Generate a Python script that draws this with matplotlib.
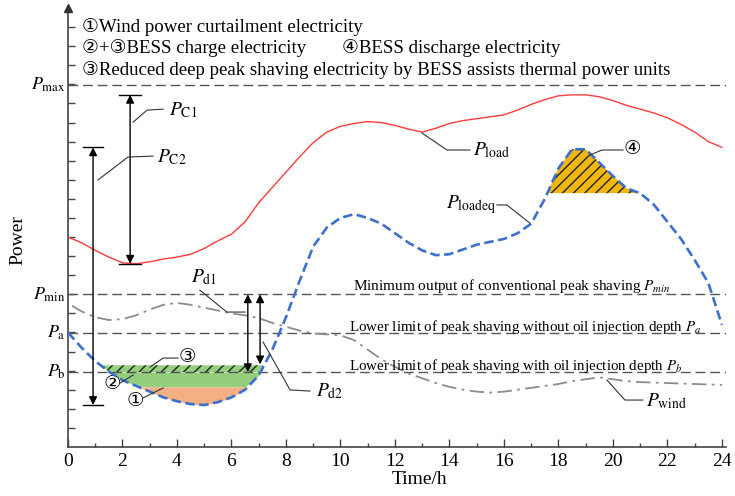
import numpy as np
import matplotlib
matplotlib.use("Agg")
import matplotlib.pyplot as plt

plt.rcParams['font.family'] = ['Liberation Serif', 'DejaVu Sans']
plt.rcParams['mathtext.fontset'] = 'stix'
plt.rcParams['hatch.linewidth'] = 1.0

# ---------------- data ----------------
hours = [0.0, 0.5, 1.0, 1.5, 2.0, 2.5, 3.0, 3.5, 4.0, 4.5, 5.0, 5.5, 6.0, 6.5, 7.0, 7.5,
         8.0, 8.5, 9.0, 9.5, 10.0, 10.5, 11.0, 11.5, 12.0, 12.5, 13.0, 13.5, 14.0, 14.5,
         15.0, 15.5, 16.0, 16.5, 17.0, 17.5, 18.0, 18.5, 19.0, 19.5, 20.0, 20.5, 21.0,
         21.5, 22.0, 22.5, 23.0, 23.5, 24.0]

p_load = [11.0, 10.7, 10.3, 9.95, 9.65, 9.6, 9.7, 9.85, 9.95, 10.1, 10.4, 10.8, 11.15, 11.8,
          12.8, 13.6, 14.4, 15.2, 15.95, 16.5, 16.8, 16.95, 17.05, 17.0, 16.85, 16.65, 16.5,
          16.7, 16.95, 17.1, 17.2, 17.3, 17.4, 17.65, 17.95, 18.2, 18.4, 18.45, 18.45, 18.35,
          18.15, 17.9, 17.7, 17.5, 17.25, 16.9, 16.5, 16.0, 15.7]

p_loadeq = [6.0, 5.2, 4.5, 3.95, 3.5, 3.2, 2.9, 2.6, 2.4, 2.25, 2.2, 2.35, 2.6, 3.0, 3.75,
            5.1, 6.8, 8.7, 10.5, 11.5, 12.0, 12.2, 12.0, 11.7, 11.2, 10.7, 10.3, 10.05, 10.1,
            10.35, 10.6, 10.75, 10.9, 11.2, 11.7, 13.0, 14.6, 15.6, 15.6, 14.9, 14.2, 13.55,
            13.3, 12.7, 11.8, 10.9, 9.8, 8.6, 6.4]

wind_hours = [0.15, 0.5, 1.0, 1.5, 2.0, 2.5, 3.0, 3.5, 4.0, 4.5, 5.0, 5.5, 6.0, 6.5, 7.0,
              7.5, 8.0, 8.5, 9.0, 9.5, 10.0, 10.5, 11.0, 11.5, 12.0, 12.5, 13.0, 13.5, 14.0,
              14.5, 15.0, 15.5, 16.0, 16.5, 17.0, 17.5, 18.0, 18.5, 19.0, 19.5, 20.0, 20.5,
              21.0, 22.0, 23.0, 24.0]
p_wind = [7.4, 7.1, 6.8, 6.65, 6.7, 6.9, 7.2, 7.45, 7.55, 7.45, 7.3, 7.15, 7.0, 6.9, 6.75,
          6.5, 6.3, 6.1, 5.95, 5.9, 5.85, 5.6, 5.1, 4.6, 4.2, 3.85, 3.6, 3.35, 3.15, 3.0,
          2.9, 2.85, 2.9, 3.0, 3.1, 3.2, 3.3, 3.45, 3.55, 3.65, 3.55, 3.45, 3.4, 3.35, 3.3,
          3.25]

P_MAX, P_MIN, P_A, P_B = 18.96, 8.0, 5.97, 3.92
BAND_TOP = 4.28          # top of region 3
CURT_TOP = 3.15          # top of region 1 (wind curtailment)
DISCH_LEVEL = 13.3       # base of region 4

x_major = list(range(0, 25, 2))
x_minor = list(range(1, 25, 2))
y_ticks = list(range(1, 23))

# ---------------- figure ----------------
fig = plt.figure(figsize=(7.35, 4.96), dpi=100)
ax = fig.add_axes([68/735, 49/496, 658/735, 439/496])
ax.set_xlim(0, 24.15)
ax.set_ylim(0, 23)

h = np.array(hours)
eq = np.array(p_loadeq)

# filled regions
ax.fill_between(h, np.maximum(eq, CURT_TOP), P_B, where=eq < P_B, interpolate=True,
                color='#93CF7C', linewidth=0, zorder=1)
ax.fill_between(h, np.maximum(eq, P_B), BAND_TOP, where=eq < BAND_TOP, interpolate=True,
                facecolor='#93CF7C', edgecolor='#222222', hatch='///', linewidth=0, zorder=1)
ax.fill_between(h, eq, CURT_TOP, where=eq < CURT_TOP, interpolate=True,
                color='#F4AF84', linewidth=0, zorder=1)
ax.fill_between(h, DISCH_LEVEL, eq, where=(eq > DISCH_LEVEL) & (h > 16.5) & (h < 21.5),
                interpolate=True, facecolor='#F2B70F', edgecolor='#222222', hatch='///',
                linewidth=0, zorder=1)

# horizontal reference lines
for lvl in (P_MAX, P_MIN, P_A, P_B):
    ax.axhline(lvl, color='#555555', lw=1.0, ls=(0, (7, 3.5)), zorder=2)

# curves
ax.plot(hours, p_load, color='#FF3B3B', lw=1.0, zorder=3)
ax.plot(wind_hours, p_wind, color='#8C8C8C', lw=1.3, ls=(0, (8, 3, 1.5, 3)), zorder=3)
ax.plot(hours, p_loadeq, color='#3D6FD1', lw=1.9, ls=(0, (3.6, 1.7)), zorder=4)

# axes styling
for s in ('top', 'right'):
    ax.spines[s].set_visible(False)
for s in ('left', 'bottom'):
    ax.spines[s].set_color('#444444')
    ax.spines[s].set_linewidth(1.2)
ax.set_xticks(x_major)
ax.set_xticks(x_minor, minor=True)
ax.set_yticks(y_ticks)
ax.set_yticklabels([])
ax.tick_params(axis='x', which='major', direction='in', length=6, width=1, color='#444444',
               labelsize=14, pad=4)
ax.tick_params(axis='x', which='minor', direction='in', length=3, width=1, color='#444444')
ax.tick_params(axis='y', direction='in', length=5, width=1, color='#444444')
ax.plot([0], [23.0], marker='^', color='#333333', markersize=6, clip_on=False, zorder=5)

fig.text(420/735, 1 - 479/496, 'Time/h', fontsize=14, ha='center', va='center')
fig.text(18/735, 1 - 240/496, 'Power', rotation=90, fontsize=14, ha='center', va='center')

# y level labels
for lvl, lab in ((P_MAX, r'$P_{\rm max}$'), (P_MIN, r'$P_{\rm min}$'),
                 (P_A, r'$P_{\rm a}$'), (P_B, r'$P_{\rm b}$')):
    ax.text(-0.08, lvl, lab, ha='right', va='center', fontsize=13, clip_on=False)

# legend-like text at top
top_fs = 13.6
ax.text(0.5, 22.0, '①Wind power curtailment electricity', fontsize=top_fs, va='center')
ax.text(0.5, 20.9, '②+③BESS charge electricity', fontsize=top_fs, va='center')
ax.text(10.05, 20.9, '④BESS discharge electricity', fontsize=top_fs, va='center')
ax.text(0.5, 19.75, '③Reduced deep peak shaving electricity by BESS assists thermal power units',
        fontsize=top_fs, va='center')

# level descriptions
ax.text(10.45, P_MIN + 0.45, r'Minimum output of conventional peak shaving $P_{min}$',
        fontsize=11, va='center')
ax.text(10.3, P_A + 0.3, r'Lower limit of peak shaving without oil injection depth $P_a$',
        fontsize=10.8, va='center')
ax.text(10.3, P_B + 0.3, r'Lower limit of peak shaving with oil injection depth $P_b$',
        fontsize=10.8, va='center')

# double arrows
def dbl_arrow(x, y0, y1, cap=None):
    ax.annotate('', xy=(x, y1), xytext=(x, y0),
                arrowprops=dict(arrowstyle='<|-|>', color='black', lw=1.0,
                                mutation_scale=12, shrinkA=0, shrinkB=0), zorder=6)
    if cap:
        for yy in (y0, y1):
            ax.plot([x - cap, x + cap], [yy, yy], color='black', lw=1.0, zorder=6)

dbl_arrow(2.28, 18.45, 9.6, cap=0.4)
dbl_arrow(0.92, 15.7, 2.2, cap=0.38)
dbl_arrow(6.6, P_MIN, P_B)
dbl_arrow(7.05, P_MIN, BAND_TOP + 0.05)

# leader lines + labels
def leader(xs, ys):
    ax.plot(xs, ys, color='#333333', lw=0.8, zorder=6)

leader([2.39, 2.90, 3.49], [17.02, 17.65, 17.7])
ax.text(3.7, 17.65, r'$P_{\rm C1}$', fontsize=14, va='center')
leader([1.10, 2.20, 3.12], [13.99, 15.19, 15.24])
ax.text(3.28, 15.2, r'$P_{\rm C2}$', fontsize=14, va='center')
leader([6.50, 5.83, 4.84], [7.07, 7.07, 8.22])
ax.text(5.0, 8.9, r'$P_{\rm d1}$', fontsize=14, va='center', ha='center')
leader([7.16, 8.15, 8.88], [5.5, 2.99, 2.93])
ax.text(9.1, 2.9, r'$P_{\rm d2}$', fontsize=14, va='center')
leader([12.99, 13.91, 14.75], [16.45, 15.56, 15.56])
ax.text(14.85, 15.56, r'$P_{\rm load}$', fontsize=14, va='center')
leader([16.95, 16.11, 15.74], [11.73, 12.68, 12.68])
ax.text(15.7, 12.68, r'$P_{\rm loadeq}$', fontsize=14, va='center', ha='right')
leader([19.78, 20.44, 21.1], [3.51, 2.46, 2.46])
ax.text(21.2, 2.4, r'$P_{\rm wind}$', fontsize=14, va='center')

leader([3.01, 3.49, 4.04], [4.19, 4.66, 4.66])
ax.text(4.37, 4.7, '③', fontsize=14, va='center', ha='center')
leader([2.39, 1.91], [3.77, 3.35])
ax.text(1.61, 3.3, '②', fontsize=14, va='center', ha='center')
leader([3.49, 2.75], [3.09, 2.57])
ax.text(2.46, 2.36, '①', fontsize=14, va='center', ha='center')
leader([19.16, 19.6, 20.37], [15.3, 15.56, 15.56])
ax.text(20.72, 15.6, '④', fontsize=14, va='center', ha='center')

fig.savefig('out.png', dpi=100)
